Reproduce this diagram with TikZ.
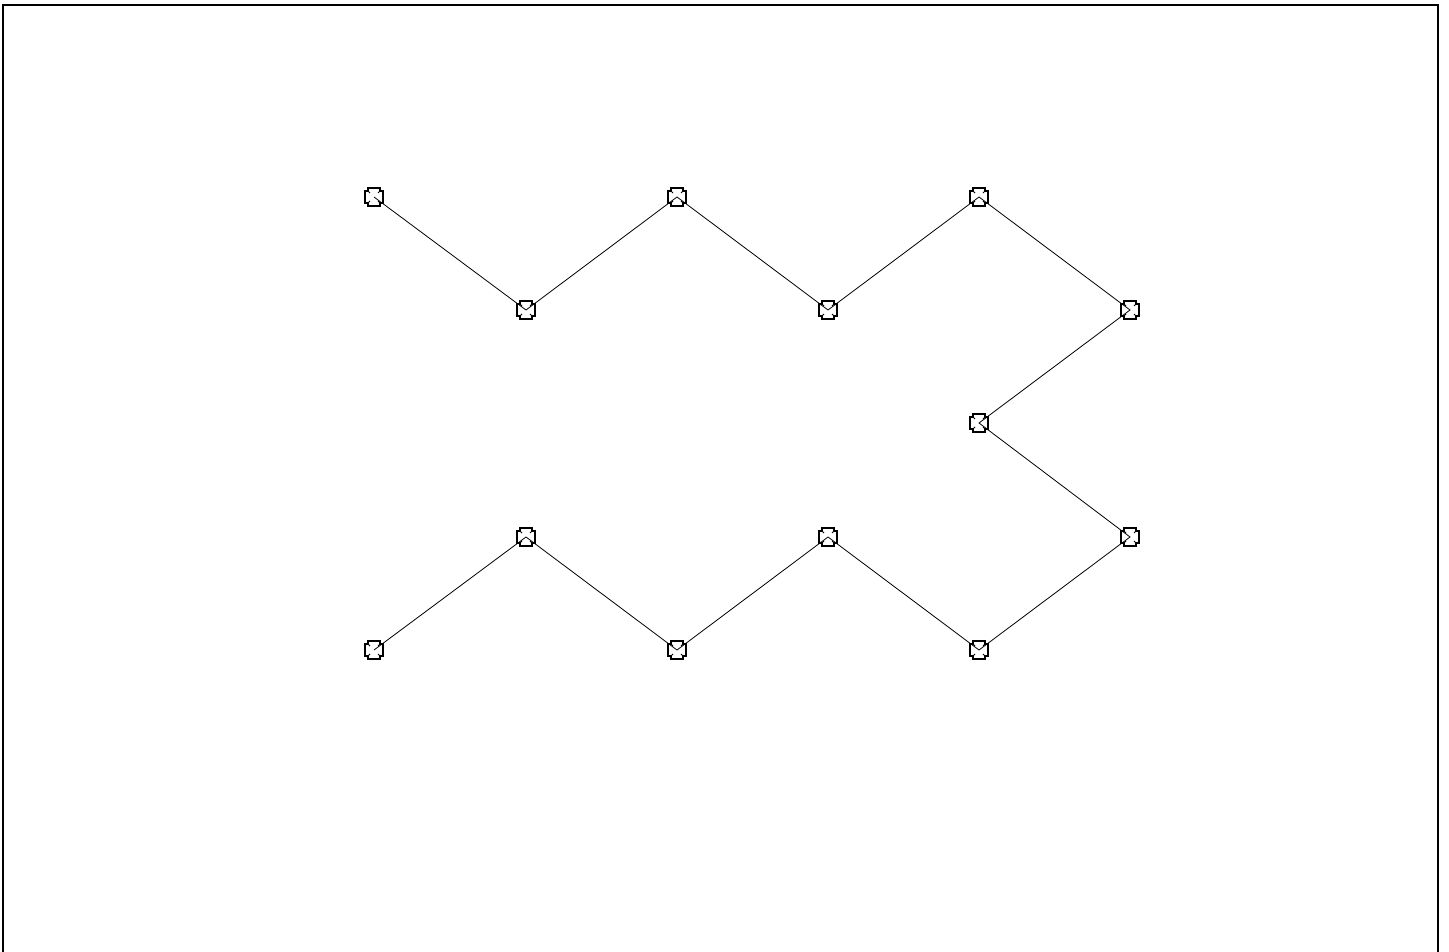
\documentclass[tikz,border=0pt]{standalone}
\begin{document}
\begin{tikzpicture}[x=1pt,y=-1pt,
  pt/.style={minimum size=19pt,inner sep=0pt,outer sep=0pt},
  link/.style={line width=0.8pt,black},
  frame/.style={line width=1.6pt,black}]
\useasboundingbox (0,0) rectangle (1449,952);
\draw[frame] (3,960) -- (3,5) -- (1438,5) -- (1438,960);
\node[pt] (a1) at (374,197) {};
\node[pt] (a2) at (526,310) {};
\node[pt] (a3) at (677,197) {};
\node[pt] (a4) at (828,310) {};
\node[pt] (a5) at (979,197) {};
\node[pt] (a6) at (1130,310) {};
\node[pt] (a7) at (979,423) {};
\node[pt] (a8) at (1130,537) {};
\node[pt] (a9) at (979,650) {};
\node[pt] (a10) at (828,537) {};
\node[pt] (a11) at (677,650) {};
\node[pt] (a12) at (526,537) {};
\node[pt] (a13) at (374,650) {};
\draw[link] (a1.center) -- (a2.center) -- (a3.center) -- (a4.center) -- (a5.center) -- (a6.center) -- (a7.center) -- (a8.center) -- (a9.center) -- (a10.center) -- (a11.center) -- (a12.center) -- (a13.center);
\foreach \n in {a1,a2,a3,a4,a5,a6,a7,a8,a9,a10,a11,a12,a13}{
  \draw[line width=1.2pt,line join=miter,shift={(\n.center)}]
    (-6,-9) -- (6,-9) -- (6,-6) -- (9,-6) -- (9,6) -- (6,6) -- (6,9)
    -- (-6,9) -- (-6,6) -- (-9,6) -- (-9,-6) -- (-6,-6) -- cycle;
  \draw[line width=1pt,shift={(\n.center)}]
    (-6,-6) -- (-4,-4) (6,-6) -- (4,-4) (6,6) -- (4,4) (-6,6) -- (-4,4);
}
\end{tikzpicture}
\end{document}
